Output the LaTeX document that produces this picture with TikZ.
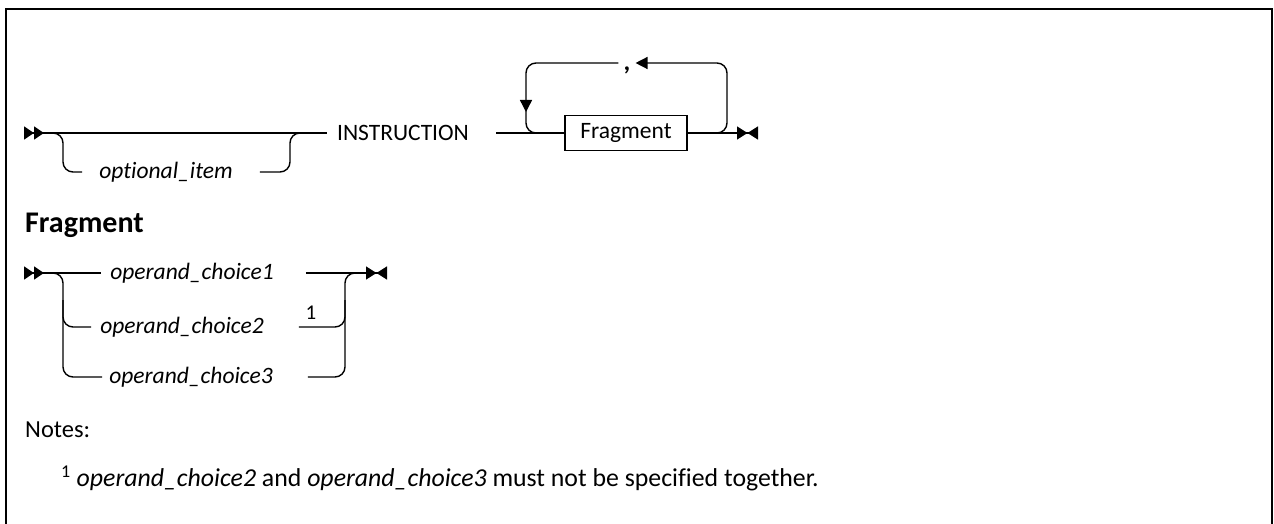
\documentclass[tikz,border=0pt]{standalone}
\usepackage{fontspec}
\setmainfont{Carlito}[Ligatures=NoCommon]
\usetikzlibrary{arrows.meta,calc,positioning}
\tikzset{
  rail/.style={line width=1.4pt,rounded corners=10pt},
  bgn/.style={{Triangle[reversed,length=10pt,width=13pt,sep=0pt]Triangle[reversed,length=10pt,width=13pt,sep=0pt]}-},
  fin/.style={-{Triangle[length=10.5pt,width=13pt,sep=0pt]Triangle[reversed,length=10.5pt,width=13pt,sep=0pt]}},
  back/.style={-{Triangle[length=12pt,width=12pt]}},
  word/.style={font=\fontsize{23.5}{27}\selectfont,inner sep=0pt},
  opt/.style={font=\fontsize{23.5}{27}\selectfont\itshape,inner sep=0pt},
}
\begin{document}
\begin{tikzpicture}[x=1pt,y=-1pt]
\useasboundingbox (0,0) rectangle (1274,524);
\draw[line width=2.2pt] (6,540) -- (6,9) -- (1272,9) -- (1272,540); % frame
% main rail
\coordinate (s1) at (24,133);
\coordinate (e1) at (758,133);
\coordinate (lt) at (526,63);
\coordinate (rt) at (727,63);
\node[word] (instr) at (403,133) {INSTRUCTION};
\node[opt] (optl) at (166,172) {optional\_item};
\node[draw,line width=1.4pt,word,minimum width=122pt,minimum height=35pt] (frag) at (626,133) {Fragment};
\node[word,font=\bfseries\fontsize{26}{30}\selectfont,inner xsep=5pt] (comma) at (627,70) {,};
\draw[rail,bgn] (s1) -- ($(instr.west)+(-10,0)$);
\draw[rail] (43,133) -| (63,172) -- ($(optl.west)+(-17,0)$);
\draw[rail] ($(optl.east)+(27,0)$) -| (290,133) -- (310,133);
\draw[rail] ($(instr.east)+(27,0)$) -- (frag.west);
\draw[rail,fin] (frag.east) -- (e1);
\draw[rail,back] (707,133) -| (rt) -- (comma.east |- rt);
\draw[rail,back] (comma.west |- lt) -| (526,112);
\draw[rail] (526,108) |- (546,133);
% fragment rail
\node[font=\bfseries\fontsize{30}{34}\selectfont,anchor=west,inner sep=0pt] (fhead) at (25,225) {Fragment};
\coordinate (s2) at (24,273);
\coordinate (e2) at (387,273);
\node[opt] (c1) at (192,273) {operand\_choice1};
\node[opt] (c2) at (182,327) {operand\_choice2};
\node[opt] (c3) at (191,377) {operand\_choice3};
\node[font=\fontsize{21}{24}\selectfont,inner sep=0pt] (mark) at (311,313) {1};
\draw[rail,bgn] (s2) -- ($(c1.west)+(-9,0)$);
\draw[rail,fin] ($(c1.east)+(32,0)$) -- (e2);
\draw[rail] (43,273) -| (63,377) -- ($(c3.west)+(-7,0)$);
\draw[rail] (63,300) |- ($(c2.west)+(-9,0)$);
\draw[rail] ($(c3.east)+(35,0)$) -| (345,273) -- (365,273);
\draw[rail] ($(c2.east)+(35,0)$) -| (345,300);
% notes
\node[word,font=\fontsize{24.5}{28}\selectfont,anchor=west] (notes) at (25,430) {Notes:};
\node[word,font=\fontsize{25.8}{30}\selectfont,anchor=west] (fnote) at (61,478) {\textsuperscript{1} \textit{operand\_choice2} and \textit{operand\_choice3} must not be specified together.};
\end{tikzpicture}
\end{document}
